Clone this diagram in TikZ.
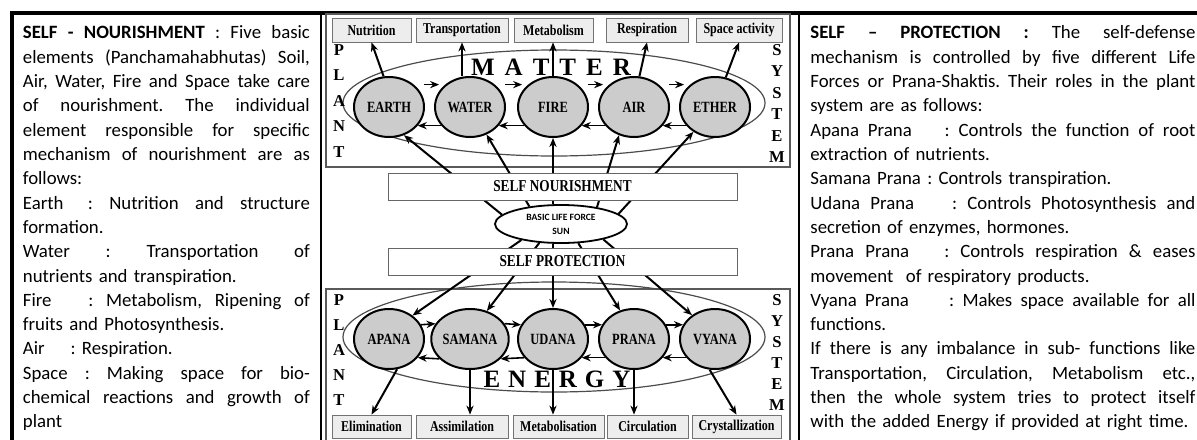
\documentclass[tikz,border=0pt]{standalone}
\usepackage{fontspec}
\setmainfont{Carlito}
\newfontfamily\serifbox[FakeStretch=0.8]{Liberation Serif}
\newfontfamily\serifbig{Liberation Serif}
\usetikzlibrary{shapes.geometric,arrows.meta}

\newcommand\jline[1]{\leavevmode\hbox to \hsize{\spaceskip=0.23em plus 1fil minus 0.05em\xspaceskip=\spaceskip #1}\\}

\tikzset{
  sidetext/.style={inner sep=0pt, anchor=base west, align=left, font=\fontsize{9.4}{12.15}\selectfont\frenchspacing},
  element/.style={ellipse, draw, line width=1pt, fill=gray!40, minimum width=35pt, minimum height=30pt, inner sep=0pt, font=\serifbox\bfseries\fontsize{7.8}{9}\selectfont},
  fnbox/.style={rectangle, draw=black!55, fill=black!7, inner sep=0pt, font=\serifbox\bfseries\fontsize{7.5}{9}\selectfont},
  selfbox/.style={rectangle, draw=black!60, fill=white, minimum width=174.5pt, minimum height=13.5pt, inner sep=0pt, font=\serifbox\bfseries\fontsize{8.3}{10}\selectfont},
  bigoval/.style={ellipse, draw=black!70, line width=0.6pt, minimum width=211pt, inner sep=0pt},
  sidelet/.style={inner sep=0pt, font=\serifbig\bfseries\fontsize{8.3}{10}\selectfont},
  bigword/.style={inner sep=0pt, font=\serifbig\bfseries\fontsize{12.5}{14}\selectfont},
  panel/.style={draw=black!65, line width=0.6pt},
  ray/.style={->, line width=1pt},
  cyc/.style={->, line width=0.8pt},
}

\begin{document}
\begin{tikzpicture}[x=0.5pt, y=-0.5pt, >={Stealth[length=4.5pt,width=3.6pt]}]
\useasboundingbox (0,0) rectangle (1197,439);

% frame and columns
\draw[line width=1.8pt] (10,13) -- (1197,13);
\draw[line width=1.8pt] (12,13) -- (12,445);
\draw[line width=1pt] (321,13) -- (321,445);
\draw[line width=1pt] (799,13) -- (799,445);
\draw[panel] (326,14) rectangle (790,167);
\draw[panel] (326,289) rectangle (790,445);

\node[bigoval, minimum height=53pt] (matteroval) at (554,103) {};
\node[bigoval, minimum height=55pt] (energyoval) at (554,337) {};
\node[bigword] (matter) at (551,67) {M\hspace{5pt}A\hspace{5pt}T\hspace{5pt}T\hspace{5pt}E\hspace{5pt}R};
\node[bigword] (energy) at (557,379) {E\hspace{4pt}N\hspace{4pt}E\hspace{4pt}R\hspace{4pt}G\hspace{4pt}Y};

\foreach \ch [count=\i] in {P,L,A,N,T} {
  \node[sidelet] (plantm\i) at (339,24.5+25.5*\i) {\ch};
  \node[sidelet] (plante\i) at (339,275+25*\i) {\ch};
}
\foreach \ch [count=\i] in {S,Y,S,T,E,M} {
  \node[sidelet] (systemm\i) at (777,28.6+21.4*\i) {\ch};
  \node[sidelet] (systeme\i) at (777,279+21*\i) {\ch};
}

\foreach \nm/\lb/\x in {earth/EARTH/389, water/WATER/470, fire/FIRE/553, air/AIR/634, ether/ETHER/715}
  \node[element] (\nm) at (\x,107) {\lb};
\foreach \nm/\lb/\x in {apana/APANA/389, samana/SAMANA/470, udana/UDANA/553, prana/PRANA/634, vyana/VYANA/715}
  \node[element] (\nm) at (\x,339) {\lb};

\node[ellipse, draw, line width=0.9pt, fill=white, minimum width=66pt, minimum height=19pt, inner sep=0pt, align=center, font=\bfseries\fontsize{4.8}{7}\selectfont] (sun) at (561,224) {BASIC LIFE FORCE\\SUN};

\draw[ray] (sun.171) -- (earth.-62);
\draw[ray] (sun.151) -- (water.-59);
\draw[ray] (fire.south |- sun.north) -- (fire.south);
\draw[ray] (sun.25) -- (air.-118);
\draw[ray] (sun.10) -- (ether.-131);
\draw[ray] (sun.202) -- (apana.45);
\draw[ray] (sun.221) -- (samana.59);
\draw[ray] (udana.north |- sun.south) -- (udana.north);
\draw[ray] (sun.-48) -- (prana.116);
\draw[ray] (sun.-20) -- (vyana.134);

\node[selfbox] (nourish) at (562.5,186.5) {SELF NOURISHMENT};
\node[selfbox] (protect) at (562.5,261.5) {SELF PROTECTION};

\foreach \a/\b in {earth/water, water/fire, fire/air, air/ether} {
  \draw[cyc, shorten <=5pt, shorten >=3pt] (\a.42) -- (\b.138);
  \draw[cyc] (\b.213) -- (\a.-33);
}
\foreach \a/\b in {apana/samana, samana/udana, udana/prana, prana/vyana} {
  \draw[cyc] (\a.24) -- (\b.156);
  \draw[cyc] (\b.213) -- (\a.-33);
}

\node[fnbox, minimum width=39.5pt, minimum height=12pt] (nutri) at (371.5,30) {Nutrition};
\node[fnbox, minimum width=46pt, minimum height=12pt] (transp) at (462,30) {Transportation};
\node[fnbox, minimum width=39.5pt, minimum height=12pt] (metab) at (553.5,30) {Metabolism};
\node[fnbox, minimum width=41pt, minimum height=12pt] (resp) at (647,30) {Respiration};
\node[fnbox, minimum width=43pt, minimum height=12pt] (spaceact) at (739,30) {Space activity};

\node[fnbox, minimum width=39.5pt, minimum height=11.5pt] (elim) at (371.5,426.5) {Elimination};
\node[fnbox, minimum width=46pt, minimum height=11.5pt] (assim) at (462,426.5) {Assimilation};
\node[fnbox, minimum width=45.5pt, minimum height=11.5pt] (metabo) at (558.5,426.5) {Metabolisation};
\node[fnbox, minimum width=40.5pt, minimum height=11.5pt] (circ) at (647.5,426.5) {Circulation};
\node[fnbox, minimum width=44.5pt, minimum height=11.5pt] (crys) at (736.5,426.5) {Crystallization};

\draw[ray] (earth.100) -- (nutri.south);
\draw[ray] (transp.south |- water.north) -- (transp.south);
\draw[ray] (fire.north) -- (fire.north |- metab.south);
\draw[ray] (air.80) -- (resp.south);
\draw[ray] (ether.70) -- (spaceact.south);
\draw[ray] (apana.-75) -- (elim.north);
\draw[ray] (samana.south) -- (samana.south |- assim.north);
\draw[ray] (udana.south) -- (udana.south |- metabo.north);
\draw[ray] (prana.south) -- (prana.south |- circ.north);
\draw[ray] (vyana.-100) -- (crys.north);

\node[sidetext, text width=143.5pt] (nourtext) at (22.5,39) {%
\jline{\textbf{SELF - NOURISHMENT} : Five basic}
\jline{elements (Panchamahabhutas) Soil,}
\jline{Air, Water, Fire and Space take care}
\jline{of nourishment. The individual}
\jline{element responsible for specific}
\jline{mechanism of nourishment are as}
follows:\\
\jline{Earth\hspace{4pt} : Nutrition and structure}
formation.\\
\jline{Water : Transportation of}
nutrients and transpiration.\\
\jline{Fire\hspace{12pt} : Metabolism, Ripening of}
fruits and Photosynthesis.\\
Air\hspace{13pt}: Respiration.\\
\jline{Space : Making space for bio-}
\jline{chemical reactions and growth of}
plant};

\node[sidetext, text width=192.5pt] (protext) at (810,39) {%
\jline{\textbf{SELF – PROTECTION :} The self-defense}
\jline{mechanism is controlled by five different Life}
\jline{Forces or Prana-Shaktis. Their roles in the plant}
system are as follows:\\
\jline{Apana Prana\hspace{12pt} : Controls the function of root}
extraction of nutrients.\\
Samana Prana : Controls transpiration.\\
\jline{Udana Prana\hspace{14pt} : Controls Photosynthesis and}
secretion of enzymes, hormones.\\
\jline{Prana Prana\hspace{12pt} : Controls respiration \& eases}
movement\ \ of respiratory products.\\
\jline{Vyana Prana\hspace{16pt} : Makes space available for all}
functions.\\
\jline{If there is any imbalance in sub- functions like}
\jline{Transportation, Circulation, Metabolism etc.,}
\jline{then the whole system tries to protect itself}
with the added Energy if provided at right time.};
\end{tikzpicture}
\end{document}
